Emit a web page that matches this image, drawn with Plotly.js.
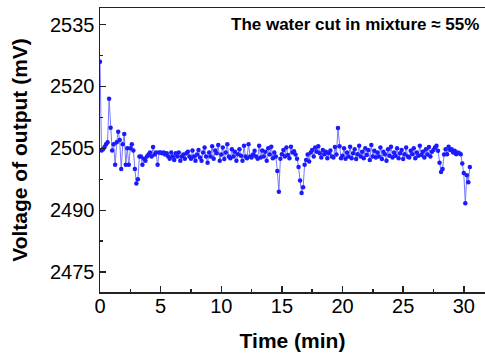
<!DOCTYPE html>
<html>
<head>
<meta charset="utf-8">
<script src="https://cdn.plot.ly/plotly-3.0.1.min.js"></script>
<style>html,body{margin:0;padding:0;background:#fff;}#chart{width:485px;height:360px;}</style>
</head>
<body>
<div id="chart"></div>
<script>
// Sampling: time starts at 0 min, one reading every 0.125 min
const timeStart = 0;
const timeStep = 0.125;
// Output voltage (mV), 8 readings per minute
const voltage = [
  2526, 2504.5, 2504.8, 2505.3, 2506, 2506.5, 2517, 2510,
  2504.5, 2506, 2501, 2506.5, 2509, 2507, 2500, 2506,
  2508.5, 2501, 2505, 2501, 2505, 2506, 2504.5, 2500,
  2496.5, 2497.5, 2503, 2503, 2501, 2502.5, 2502, 2503,
  2503.5, 2504, 2503, 2505.3, 2503.5, 2504, 2501, 2504,
  2504, 2503.8, 2504, 2503.5, 2503.8, 2503, 2502.5, 2504,
  2503, 2502.2, 2503.8, 2503, 2504, 2502, 2503, 2503.5,
  2502.5, 2503.8, 2504.2, 2503, 2502.5, 2504.5, 2503, 2502,
  2503.5, 2504.6, 2502.8, 2502, 2504, 2505.2, 2503, 2501.5,
  2504, 2503, 2505.5, 2502.5, 2504.5, 2503.8, 2505.8, 2502,
  2503.5, 2505.2, 2502.4, 2504, 2506, 2503, 2502.6, 2504.8,
  2503, 2504.2, 2502, 2503.6, 2504.8, 2503.2, 2502, 2505.6,
  2503, 2502.6, 2506, 2503, 2502.8, 2503.5, 2504.4, 2503,
  2502.5, 2505.6, 2502.8, 2504.5, 2503, 2504.2, 2502, 2505,
  2503.5, 2505.4, 2502.6, 2504, 2503, 2499.5, 2494.5, 2502.5,
  2503.6, 2504.6, 2503, 2505.2, 2503.4, 2502.6, 2505.4, 2504,
  2504.3, 2503.5, 2502.5, 2500.5, 2497.2, 2494.2, 2495.6, 2501,
  2502.2, 2503.5, 2501.8, 2504, 2504.6, 2503, 2505.2, 2504.2,
  2505.5, 2503.8, 2502.8, 2504.6, 2503.6, 2504.2, 2502.6, 2503.8,
  2504.5, 2503, 2502.8, 2505.3, 2503.5, 2509.9, 2505.5, 2502.6,
  2503.2, 2505, 2502.5, 2504, 2503, 2505.4, 2502.6, 2503.8,
  2504.8, 2502.4, 2503.6, 2505.6, 2503, 2504.2, 2502.6, 2505,
  2503.4, 2504.6, 2502.2, 2505.8, 2503, 2504.4, 2502.8, 2504,
  2503, 2505.2, 2502.4, 2504.2, 2503.6, 2502, 2504.8, 2503.2,
  2505.4, 2502.8, 2504, 2503.2, 2505, 2502.6, 2503.8, 2504.6,
  2502.4, 2503.6, 2505.2, 2503, 2502.8, 2504.4, 2503.6, 2505,
  2502.6, 2504, 2503.2, 2505.6, 2503.4, 2504.2, 2502.8, 2504.8,
  2503.5, 2505.3, 2503, 2504.2, 2504.6, 2505.2, 2505.6, 2504.4,
  2501.5, 2499.3, 2500, 2503.5, 2504.8, 2503.6, 2505.4, 2504.6,
  2504.8, 2504, 2504.4, 2503.6, 2504, 2503.8, 2503.6, 2501.3,
  2499, 2491.7, 2498.5, 2496.8, 2500.5
];
const xTicks = [0, 5, 10, 15, 20, 25, 30];
const yTicks = [2475, 2490, 2505, 2520, 2535];
const annotationText = 'The water cut in mixture \u2248 55%';

const trace = {
  type: 'scatter',
  mode: 'lines+markers',
  x0: timeStart,
  dx: timeStep,
  y: voltage,
  line: {color: '#7777ff', width: 1},
  marker: {color: '#1a1aff', size: 4.5, symbol: 'circle'},
  hoverinfo: 'skip'
};

const fam = 'Liberation Sans, Arial, sans-serif';
const axisFont = {family: fam, size: 20, color: '#000'};
const layout = {
  width: 485, height: 360,
  margin: {l: 100, r: 0, t: 8, b: 68},
  paper_bgcolor: '#fff', plot_bgcolor: '#fff',
  showlegend: false,
  xaxis: {
    range: [0, 31.75],
    tickmode: 'array', tickvals: xTicks, ticktext: xTicks.map(String),
    ticks: 'inside', ticklen: 6, tickwidth: 1.5, tickcolor: '#222',
    ticklabelstandoff: -5,
    minor: {dtick: 2.5, tick0: 0, ticks: 'inside', ticklen: 3, tickwidth: 1.5, tickcolor: '#222', showgrid: false},
    showline: true, linecolor: '#222', linewidth: 1.5, mirror: true,
    showgrid: false, zeroline: false,
    tickfont: axisFont,
    title: {text: '<b>Time (min)</b>', font: {family: fam, size: 21, color: '#000'}, standoff: 18}
  },
  yaxis: {
    range: [2470.2, 2539],
    tickmode: 'array', tickvals: yTicks, ticktext: yTicks.map(String),
    ticks: 'inside', ticklen: 6, tickwidth: 1.5, tickcolor: '#222',
    minor: {dtick: 7.5, tick0: 2475, ticks: 'inside', ticklen: 3, tickwidth: 1.5, tickcolor: '#222', showgrid: false},
    showline: true, linecolor: '#222', linewidth: 1.5, mirror: true,
    showgrid: false, zeroline: false,
    tickfont: axisFont,
    title: {text: '<b>Voltage of output (mV)</b>', font: {family: fam, size: 21, color: '#000'}, standoff: 16}
  },
  annotations: [{
    text: '<b>' + annotationText + '</b>',
    xref: 'paper', yref: 'y', x: 1, y: 2535, xanchor: 'right', yanchor: 'middle', xshift: -4,
    showarrow: false,
    font: {family: fam, size: 17, color: '#000'}
  }]
};

Plotly.newPlot('chart', [trace], layout, {displayModeBar: false, staticPlot: true});
</script>
</body>
</html>
